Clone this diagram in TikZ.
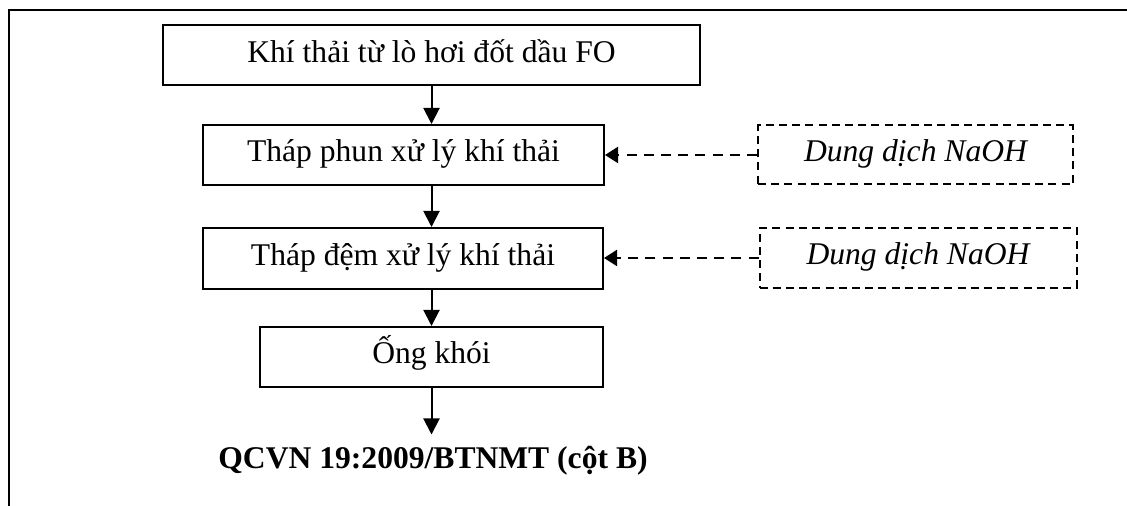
\documentclass[tikz,border=0pt]{standalone}
\usepackage{fontspec}
\setmainfont{Liberation Serif}
\usetikzlibrary{arrows.meta}
\tikzset{
  flowbox/.style={draw, line width=1pt, minimum height=30pt, inner sep=0pt,
    text height=0.66em, text depth=0pt, font=\fontsize{15.8pt}{18pt}\selectfont},
  feedbox/.style={draw, line width=1pt, dash pattern=on 4pt off 2.6pt,
    minimum height=29.5pt, inner sep=0pt, text height=0.66em, text depth=0pt,
    font=\fontsize{15.8pt}{18pt}\selectfont\itshape},
  flow/.style={line width=1pt, -{Triangle[length=8pt,width=8pt]}},
  feed/.style={line width=1pt, dash pattern=on 5pt off 3.6pt,
    -{Triangle[length=6.5pt,width=8pt]}},
}
\begin{document}
\begin{tikzpicture}[x=0.5pt, y=-0.5pt]
  \useasboundingbox (0,0) rectangle (1127,506);
  % open frame (left and top edges)
  \draw[line width=1.3pt] (9,520) -- (9,10) -- (1140,10);

  % main process chain
  \node[flowbox, minimum width=268.5pt] (b1) at (431.5,55.5) {Khí thải từ lò hơi đốt dầu FO};
  \node[flowbox, minimum width=200.5pt] (b2) at (403.5,155) {Tháp phun xử lý khí thải};
  \node[flowbox, minimum width=200pt, minimum height=30.5pt] (b3) at (403,258.5) {Tháp đệm xử lý khí thải};
  \node[flowbox, minimum width=171.5pt] (b4) at (431.5,357) {Ống khói};
  \node[font=\fontsize{15.8pt}{18pt}\selectfont\bfseries, text height=0.66em, text depth=0pt,
        inner xsep=0pt, inner ysep=10.25pt] (out) at (433,462) {QCVN 19:2009/BTNMT (cột B)};

  % chemical dosing
  \node[feedbox, minimum width=157.5pt] (na) at (915.5,155) {Dung dịch NaOH};
  \node[feedbox, minimum width=158.5pt, minimum height=30pt] (nb) at (918,258) {Dung dịch NaOH};

  % flow arrows
  \draw[flow] (b1.south) -- (b1.south |- b2.north);
  \draw[flow] (b2.south -| b1.south) -- (b3.north -| b1.south);
  \draw[flow] (b3.south -| b1.south) -- (b4.north -| b1.south);
  \draw[flow] (b4.south) -- (b4.south |- out.north);

  % dosing arrows
  \draw[feed] (na.west) -- (na.west -| b2.east);
  \draw[feed] (nb.west) -- (nb.west -| b3.east);
\end{tikzpicture}
\end{document}
